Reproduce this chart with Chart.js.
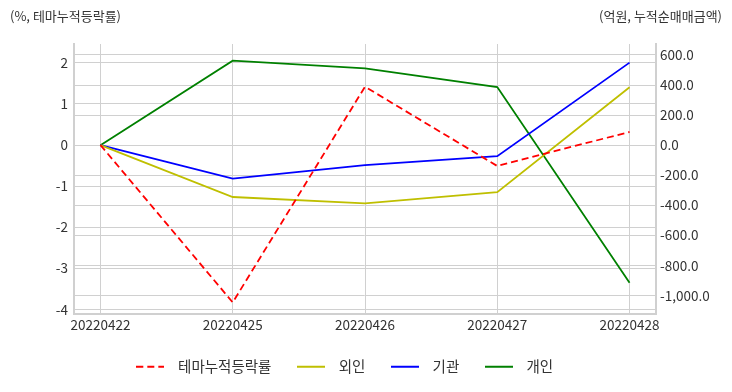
<!DOCTYPE html>
<html>
<head>
<meta charset="utf-8">
<script src="https://cdn.jsdelivr.net/npm/chart.js@4"></script>
<style>
  html, body { margin: 0; padding: 0; background: #fff; }
  #wrap { width: 732px; height: 392px; position: relative; }
</style>
</head>
<body>
<div id="wrap"><canvas id="chart"></canvas></div>
<script>
// 테마 누적등락률 vs 투자자별 누적순매매금액
const dates = ['20220422', '20220425', '20220426', '20220427', '20220428'];
const themeRate = [0, -3.83, 1.42, -0.51, 0.32];     // %, left axis
const foreign = [0, -345, -387, -313, 385];          // 억원, right axis
const institution = [0, -222, -133, -73, 549];
const individual = [0, 562, 511, 387, -915];

const leftTicks = [-4, -3, -2, -1, 0, 1, 2];
const rightTicks = [-1000, -800, -600, -400, -200, 0, 200, 400, 600];
const leftTitle = '(%, 테마누적등락률)';
const rightTitle = '(억원, 누적순매매금액)';

const FONT = "'Noto Sans CJK KR', 'Noto Sans', sans-serif";
const GRID = '#d0d0d0';

function pts(arr) { return arr.map((v, i) => ({ x: i, y: v })); }

const line = (label, data, color, axis, dash) => ({
  label, data: pts(data), borderColor: color, backgroundColor: color,
  yAxisID: axis, borderWidth: 1.8, pointRadius: 0, tension: 0,
  borderDash: dash || [],
});

// two header captions above the plot, one per axis
const captions = {
  id: 'captions',
  afterDraw(chart) {
    const ctx = chart.ctx;
    ctx.save();
    ctx.font = '13px ' + FONT;
    ctx.fillStyle = '#333';
    ctx.textBaseline = 'middle';
    ctx.textAlign = 'left';
    ctx.fillText(leftTitle, 10, 16);
    ctx.textAlign = 'right';
    ctx.fillText(rightTitle, 722, 16);
    ctx.restore();
  }
};

// legend in the reference sits a little left of centre
const legendShift = {
  id: 'legendShift',
  afterLayout(chart) { chart.legend.right -= 49; },
};

Chart.defaults.font.family = FONT;
Chart.defaults.color = '#333';

// 28px line swatch (with the dataset's dash) drawn as the legend point style,
// so the swatch can be narrower than the slot and leave a wider gap to the text
function swatch(color, dash) {
  const c = document.createElement('canvas');
  c.width = 28; c.height = 4;
  const g = c.getContext('2d');
  g.strokeStyle = color; g.lineWidth = 2;
  g.setLineDash(dash || []);
  g.beginPath(); g.moveTo(0, 2); g.lineTo(28, 2); g.stroke();
  return c;
}

function legendLabels(chart) {
  return Chart.defaults.plugins.legend.labels.generateLabels(chart).map(l => {
    const ds = chart.data.datasets[l.datasetIndex];
    return { ...l, pointStyle: swatch(ds.borderColor, ds.borderDash) };
  });
}

new Chart(document.getElementById('chart'), {
  type: 'line',
  data: { datasets: [
    line('테마누적등락률', themeRate, '#ff0000', 'y', [7, 4]),
    line('외인', foreign, '#bfbf00', 'y1'),
    line('기관', institution, '#0000ff', 'y1'),
    line('개인', individual, '#008000', 'y1'),
  ] },
  options: {
    responsive: true, maintainAspectRatio: false, animation: false,
    layout: { padding: { top: 44, left: 0, right: 0, bottom: 8 } },
    plugins: {
      tooltip: { enabled: false },
      legend: {
        position: 'bottom',
        labels: {
          usePointStyle: true, pointStyleWidth: 41, boxHeight: 10,
          padding: 19, font: { size: 14.5 }, color: '#333',
          generateLabels: legendLabels,
        },
      },
    },
    scales: {
      x: {
        type: 'linear', min: -0.2, max: 4.2,
        afterBuildTicks: s => { s.ticks = dates.map((d, i) => ({ value: i })); },
        afterFit: s => { s.height = 27; },
        ticks: { callback: v => dates[v], font: { size: 13.5 }, padding: 3, maxRotation: 0, autoSkip: false },
        grid: { color: GRID, drawTicks: false },
        border: { color: GRID, width: 2 },
      },
      y: {
        position: 'left', min: -4.1, max: 2.46,
        afterBuildTicks: s => { s.ticks = leftTicks.map(v => ({ value: v })); },
        afterFit: s => { s.width = 74; },
        ticks: { font: { size: 13.5 }, padding: 6 },
        grid: { color: GRID, drawTicks: false },
        border: { color: GRID, width: 2 },
      },
      y1: {
        position: 'right', min: -1120, max: 673,
        afterBuildTicks: s => { s.ticks = rightTicks.map(v => ({ value: v })); },
        afterFit: s => { s.width = 76; },
        ticks: {
          font: { size: 13.5 }, padding: 4,
          callback: v => v.toLocaleString('en-US', { minimumFractionDigits: 1, maximumFractionDigits: 1 }),
        },
        grid: { color: GRID, drawTicks: false },
        border: { color: GRID, width: 2 },
      },
    },
  },
  plugins: [captions, legendShift],
});
</script>
</body>
</html>
